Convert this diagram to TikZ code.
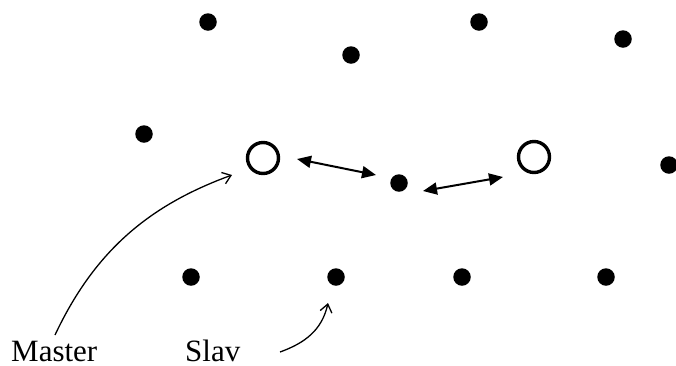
\documentclass[tikz,border=0pt]{standalone}
\usepackage{fontspec}
\setmainfont{Liberation Serif}
\usetikzlibrary{arrows.meta}
\begin{document}
\begin{tikzpicture}[x=1pt,y=-1pt,
  dot/.style={circle,fill=black,inner sep=0pt,minimum size=17.5pt},
  ring/.style={circle,draw=black,line width=3.4pt,inner sep=0pt,minimum size=31pt},
  link/.style={line width=2pt,{Triangle[length=14pt,width=12pt]}-{Triangle[length=14pt,width=12pt]}},
  pointer/.style={line width=1.3pt,-{Straight Barb[length=8pt,width=12pt]}},
  lab/.style={font=\fontsize{31}{33}\selectfont,inner sep=0pt,anchor=base west}]
\useasboundingbox (0,0) rectangle (676,365);
\node[dot] (d1) at (208,22) {};
\node[dot] (d2) at (479,22) {};
\node[dot] (d3) at (351,55) {};
\node[dot] (d4) at (623,39) {};
\node[dot] (d5) at (144,134) {};
\node[dot] (c) at (399,183) {};
\node[dot] (d6) at (669,165) {};
\node[dot] (d7) at (191,277) {};
\node[dot] (s) at (336,277) {};
\node[dot] (d8) at (462,277) {};
\node[dot] (d9) at (606,277) {};
\node[ring] (m1) at (263,158) {};
\node[ring] (m2) at (534,157) {};
\coordinate (a1) at (297,159);
\coordinate (a2) at (376,175);
\coordinate (b1) at (423,191);
\coordinate (b2) at (503,177);
\draw[link] (a1) -- (a2);
\draw[link] (b1) -- (b2);
\node[lab] (master) at (11,361) {Master};
\node[lab] (slav) at (185,361) {Slav};
\coordinate (mt) at (232,175);
\coordinate (st) at (328,303);
\coordinate (ms) at (55,335);
\coordinate (ss) at (280,352);
\draw[pointer] (ms) .. controls (95,250) and (150,205) .. (mt);
\draw[pointer] (ss) .. controls (305,343) and (322,330) .. (st);
\end{tikzpicture}
\end{document}
